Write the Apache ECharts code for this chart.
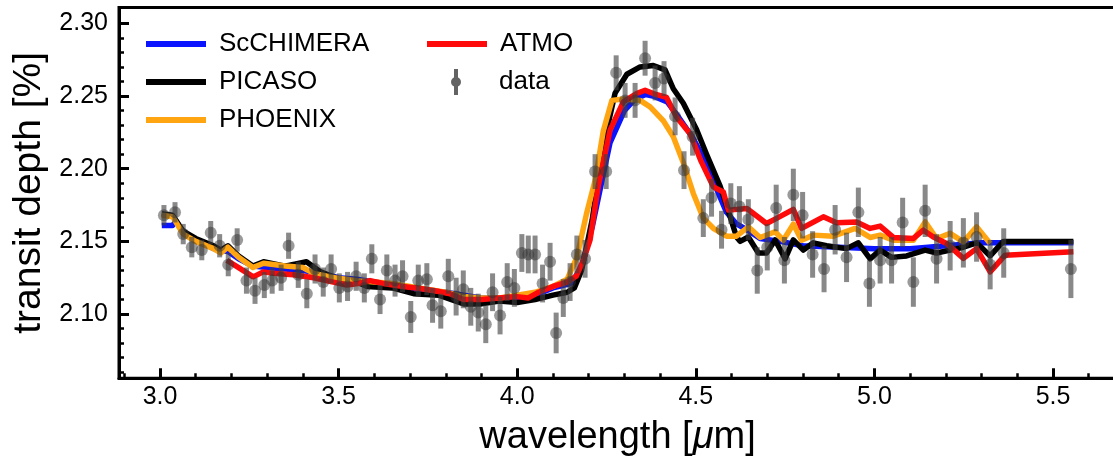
<!DOCTYPE html>
<html><head><meta charset="utf-8">
<script src="https://cdn.jsdelivr.net/npm/echarts@6/dist/echarts.min.js"></script>
<style>html,body{margin:0;padding:0;background:#fff}#c{width:1113px;height:465px}</style>
</head><body><div id="c"></div>
<script>
// observed data
const dataWl = [3.011,3.042,3.065,3.089,3.117,3.142,3.167,3.191,3.216,3.242,3.266,3.292,3.314,3.339,3.360,3.387,3.411,3.434,3.457,3.479,3.502,3.525,3.549,3.572,3.593,3.616,3.635,3.658,3.679,3.702,3.723,3.747,3.763,3.786,3.807,3.829,3.849,3.870,3.891,3.912,3.931,3.952,3.972,3.992,4.013,4.031,4.050,4.071,4.092,4.109,4.129,4.148,4.167,4.190,4.218,4.249,4.277,4.302,4.330,4.358,4.386,4.411,4.442,4.467,4.491,4.521,4.544,4.572,4.598,4.622,4.647,4.672,4.700,4.725,4.748,4.773,4.799,4.827,4.859,4.890,4.922,4.955,4.986,5.016,5.048,5.079,5.109,5.142,5.174,5.212,5.249,5.286,5.324,5.362,5.550];
const dataDepth = [2.168,2.170,2.155,2.146,2.144,2.156,2.147,2.134,2.151,2.123,2.116,2.120,2.123,2.125,2.147,2.127,2.114,2.131,2.122,2.131,2.118,2.119,2.126,2.118,2.138,2.110,2.130,2.123,2.126,2.098,2.123,2.124,2.106,2.102,2.126,2.112,2.117,2.105,2.101,2.093,2.115,2.099,2.122,2.118,2.142,2.141,2.141,2.121,2.136,2.087,2.111,2.122,2.141,2.138,2.198,2.198,2.266,2.247,2.247,2.276,2.259,2.262,2.236,2.199,2.222,2.166,2.180,2.158,2.176,2.174,2.165,2.130,2.146,2.173,2.137,2.182,2.168,2.141,2.131,2.158,2.139,2.170,2.121,2.137,2.137,2.163,2.122,2.171,2.138,2.147,2.149,2.153,2.134,2.142,2.131];
const dataErr = [0.007,0.007,0.007,0.007,0.007,0.008,0.008,0.008,0.008,0.009,0.009,0.009,0.009,0.009,0.009,0.009,0.010,0.010,0.010,0.010,0.010,0.010,0.010,0.010,0.010,0.010,0.011,0.011,0.011,0.011,0.011,0.011,0.012,0.012,0.012,0.013,0.013,0.013,0.013,0.013,0.013,0.013,0.013,0.013,0.013,0.013,0.013,0.013,0.013,0.014,0.013,0.013,0.013,0.013,0.012,0.012,0.012,0.012,0.012,0.012,0.012,0.012,0.013,0.013,0.013,0.013,0.013,0.013,0.014,0.014,0.014,0.016,0.016,0.016,0.016,0.018,0.016,0.016,0.016,0.017,0.017,0.017,0.016,0.016,0.016,0.017,0.017,0.018,0.017,0.017,0.017,0.017,0.017,0.017,0.020];

// models
const scchimeraWl = [3.005,3.035,3.045,3.065,3.10,3.15,3.19,3.22,3.26,3.30,3.35,3.40,3.45,3.50,3.55,3.60,3.65,3.70,3.75,3.80,3.85,3.90,3.95,4.00,4.05,4.10,4.15,4.18,4.21,4.24,4.26,4.30,4.33,4.36,4.38,4.42,4.45,4.49,4.52,4.54,4.56,4.586,4.614,4.643,4.68,4.736,4.80,4.90,5.00,5.10,5.20,5.30,5.36,5.557];
const scchimeraDepth = [2.161,2.161,2.164,2.156,2.151,2.145,2.143,2.138,2.133,2.132,2.131,2.130,2.128,2.125,2.124,2.122,2.120,2.118,2.116,2.115,2.113,2.111,2.111,2.111,2.113,2.118,2.121,2.132,2.160,2.195,2.218,2.240,2.248,2.251,2.250,2.246,2.236,2.222,2.208,2.199,2.185,2.170,2.162,2.158,2.152,2.150,2.147,2.146,2.145,2.145,2.147,2.149,2.149,2.149];

const picasoWl = [3.005,3.035,3.065,3.10,3.15,3.17,3.19,3.22,3.26,3.29,3.35,3.41,3.45,3.50,3.55,3.58,3.65,3.71,3.78,3.85,3.90,3.95,4.00,4.05,4.10,4.14,4.16,4.18,4.21,4.24,4.274,4.307,4.344,4.381,4.414,4.437,4.465,4.502,4.530,4.568,4.596,4.614,4.624,4.647,4.675,4.698,4.722,4.750,4.773,4.801,4.829,4.866,4.894,4.922,4.955,4.988,5.016,5.048,5.090,5.142,5.174,5.212,5.249,5.286,5.324,5.361,5.557];
const picasoDepth = [2.169,2.168,2.157,2.152,2.147,2.144,2.147,2.140,2.133,2.136,2.133,2.136,2.129,2.124,2.122,2.119,2.118,2.114,2.113,2.107,2.107,2.109,2.108,2.110,2.113,2.115,2.118,2.130,2.165,2.215,2.252,2.265,2.270,2.271,2.268,2.255,2.245,2.227,2.210,2.188,2.167,2.153,2.150,2.153,2.142,2.142,2.151,2.138,2.151,2.144,2.149,2.147,2.146,2.145,2.149,2.138,2.144,2.139,2.140,2.144,2.142,2.144,2.146,2.149,2.140,2.150,2.150];

const phoenixWl = [3.005,3.035,3.065,3.10,3.15,3.17,3.19,3.22,3.26,3.29,3.35,3.40,3.43,3.49,3.55,3.60,3.65,3.70,3.75,3.80,3.85,3.90,3.95,4.00,4.05,4.10,4.14,4.167,4.194,4.218,4.241,4.265,4.297,4.344,4.372,4.409,4.437,4.465,4.493,4.521,4.549,4.586,4.614,4.647,4.680,4.722,4.745,4.773,4.796,4.829,4.885,4.946,4.988,5.016,5.053,5.109,5.142,5.174,5.212,5.249,5.286,5.324];
const phoenixDepth = [2.168,2.167,2.155,2.150,2.145,2.142,2.146,2.139,2.132,2.135,2.133,2.132,2.128,2.125,2.123,2.122,2.121,2.119,2.117,2.115,2.112,2.111,2.111,2.113,2.115,2.119,2.124,2.139,2.169,2.192,2.226,2.247,2.248,2.247,2.2425,2.233,2.222,2.204,2.183,2.166,2.159,2.1536,2.1536,2.160,2.1527,2.1566,2.1508,2.1619,2.1508,2.1543,2.1536,2.1589,2.1527,2.1543,2.1508,2.1508,2.1634,2.152,2.1555,2.1497,2.160,2.1486];

const atmoWl = [3.187,3.22,3.261,3.289,3.317,3.373,3.43,3.485,3.523,3.555,3.588,3.625,3.68,3.728,3.77,3.812,3.85,3.90,3.95,4.00,4.03,4.06,4.10,4.14,4.165,4.185,4.204,4.227,4.260,4.297,4.334,4.358,4.381,4.418,4.446,4.484,4.515,4.549,4.577,4.591,4.643,4.698,4.726,4.773,4.796,4.857,4.894,4.950,4.988,5.016,5.053,5.109,5.137,5.165,5.202,5.249,5.286,5.324,5.366,5.557];
const atmoDepth = [2.137,2.132,2.1256,2.129,2.128,2.127,2.125,2.122,2.120,2.121,2.123,2.121,2.119,2.1176,2.116,2.114,2.110,2.110,2.111,2.112,2.111,2.115,2.119,2.122,2.126,2.137,2.151,2.188,2.2265,2.246,2.2517,2.254,2.2517,2.249,2.2356,2.224,2.205,2.1875,2.184,2.1715,2.1726,2.1623,2.1658,2.172,2.1589,2.1669,2.1628,2.1634,2.1589,2.1605,2.1527,2.152,2.1577,2.153,2.1486,2.1383,2.145,2.129,2.1405,2.1428];

// ticks
const xMajorTicks = [3.0,3.5,4.0,4.5,5.0,5.5];
const xMinorTicks = [2.9,3.1,3.2,3.3,3.4,3.6,3.7,3.8,3.9,4.1,4.2,4.3,4.4,4.6,4.7,4.8,4.9,5.1,5.2,5.3,5.4,5.6];
const yMajorTicks = [2.10,2.15,2.20,2.25,2.30];
const yMinorTicks = [2.06,2.07,2.08,2.09,2.11,2.12,2.13,2.14,2.16,2.17,2.18,2.19,2.21,2.22,2.23,2.24,2.26,2.27,2.28,2.29];

const X_MIN = 2.8852, X_MAX = 5.6763;
const Y_MIN = 2.0558, Y_MAX = 2.3109;
const FONT = "'Liberation Sans', Arial, Helvetica, sans-serif";

const zip = (a, b) => a.map((v, i) => [v, b[i]]);
const chart = echarts.init(document.getElementById('c'), null, {renderer: 'canvas'});

const lineSeries = (name, xs, ys, color) => ({
  name, type: 'line', data: zip(xs, ys), showSymbol: false, symbol: 'none',
  xAxisIndex: 0, yAxisIndex: 0, color,
  lineStyle: {color, width: 5.5, join: 'round'}, z: 3, silent: true
});

const xBase = {type: 'value', min: X_MIN, max: X_MAX, gridIndex: 0, position: 'bottom', splitLine: {show: false}};
const yBase = {type: 'value', min: Y_MIN, max: Y_MAX, gridIndex: 0, position: 'left', splitLine: {show: false}};
const legendText = pad => ({fontSize: 26, color: '#000', fontFamily: FONT, lineHeight: 30, padding: [0, 0, 0, pad]});

chart.setOption({
  animation: false,
  backgroundColor: '#fff',
  textStyle: {fontFamily: FONT},
  grid: {left: 119, right: -3, top: 7.5, bottom: 86.7, show: true, borderColor: '#000', borderWidth: 3, backgroundColor: 'transparent', containLabel: false, outerBoundsMode: 'none'},
  legend: [
    {data: ['ScCHIMERA', 'PICASO', 'PHOENIX'], orient: 'vertical', left: 141, top: 24, itemWidth: 60, itemHeight: 6, itemGap: 8, icon: 'rect', selectedMode: false,
     textStyle: legendText(8)},
    {data: ['ATMO'], orient: 'vertical', left: 422, top: 24, itemWidth: 60, itemHeight: 6, icon: 'rect', selectedMode: false,
     textStyle: legendText(8)},
    {data: [{name: 'data', icon: 'path://M4,0 L8,0 L8,26 L4,26 Z M1,13 A5,5 0 1 1 11,13 A5,5 0 1 1 1,13 Z', itemStyle: {color: 'rgba(60,60,60,0.8)'}}], orient: 'vertical', left: 446, top: 62, itemWidth: 12, itemHeight: 26, selectedMode: false,
     textStyle: legendText(32)}
  ],
  xAxis: [
    Object.assign({}, xBase, {
      axisLine: {show: true, onZero: false, lineStyle: {color: '#000', width: 3}},
      axisTick: {show: true, inside: true, length: 10, customValues: xMajorTicks, lineStyle: {color: '#000', width: 3}},
      axisLabel: {show: true, customValues: xMajorTicks, formatter: v => v.toFixed(1), fontSize: 25, color: '#000', margin: 6, fontFamily: FONT},
      name: 'wavelength [{i|μ}m]', nameLocation: 'middle', nameGap: 40, nameMoveOverlap: false,
      nameTextStyle: {fontSize: 38, color: '#000', fontFamily: FONT, verticalAlign: 'top', rich: {i: {fontSize: 38, fontStyle: 'italic', fontFamily: FONT, color: '#000'}}}
    }),
    Object.assign({}, xBase, {
      axisLine: {show: false, onZero: false},
      axisTick: {show: true, inside: true, length: 5, customValues: xMinorTicks, lineStyle: {color: '#000', width: 2.5}},
      axisLabel: {show: false}
    })
  ],
  yAxis: [
    Object.assign({}, yBase, {
      axisLine: {show: true, onZero: false, lineStyle: {color: '#000', width: 3}},
      axisTick: {show: true, inside: true, length: 10, customValues: yMajorTicks, lineStyle: {color: '#000', width: 3}},
      axisLabel: {show: true, customValues: yMajorTicks, formatter: v => v.toFixed(2), fontSize: 25, color: '#000', margin: 11, fontFamily: FONT},
      name: 'transit depth [%]', nameLocation: 'middle', nameGap: 70, nameMoveOverlap: false,
      nameTextStyle: {fontSize: 39, color: '#000', fontFamily: FONT}
    }),
    Object.assign({}, yBase, {
      axisLine: {show: false, onZero: false},
      axisTick: {show: true, inside: true, length: 5, customValues: yMinorTicks, lineStyle: {color: '#000', width: 2.5}},
      axisLabel: {show: false}
    })
  ],
  series: [
    lineSeries('ScCHIMERA', scchimeraWl, scchimeraDepth, '#0a14ff'),
    lineSeries('PICASO', picasoWl, picasoDepth, '#000000'),
    lineSeries('PHOENIX', phoenixWl, phoenixDepth, '#ffa512'),
    lineSeries('ATMO', atmoWl, atmoDepth, '#ff0a0a'),
    {
      name: 'data', type: 'custom', xAxisIndex: 0, yAxisIndex: 0, z: 5, silent: true,
      data: dataWl.map((x, i) => [x, dataDepth[i] - dataErr[i], dataDepth[i] + dataErr[i]]),
      encode: {x: 0, y: [1, 2]},
      renderItem: (params, api) => {
        const lo = api.coord([api.value(0), api.value(1)]);
        const hi = api.coord([api.value(0), api.value(2)]);
        return {type: 'rect', shape: {x: lo[0] - 2.5, y: hi[1], width: 5, height: lo[1] - hi[1]},
                style: {fill: 'rgba(65,65,65,0.62)'}};
      }
    },
    {
      name: 'data', type: 'scatter', xAxisIndex: 0, yAxisIndex: 0, z: 6, silent: true,
      data: zip(dataWl, dataDepth), symbol: 'circle', symbolSize: 12,
      itemStyle: {color: 'rgba(50,50,50,0.62)'}
    }
  ]
});
</script></body></html>
